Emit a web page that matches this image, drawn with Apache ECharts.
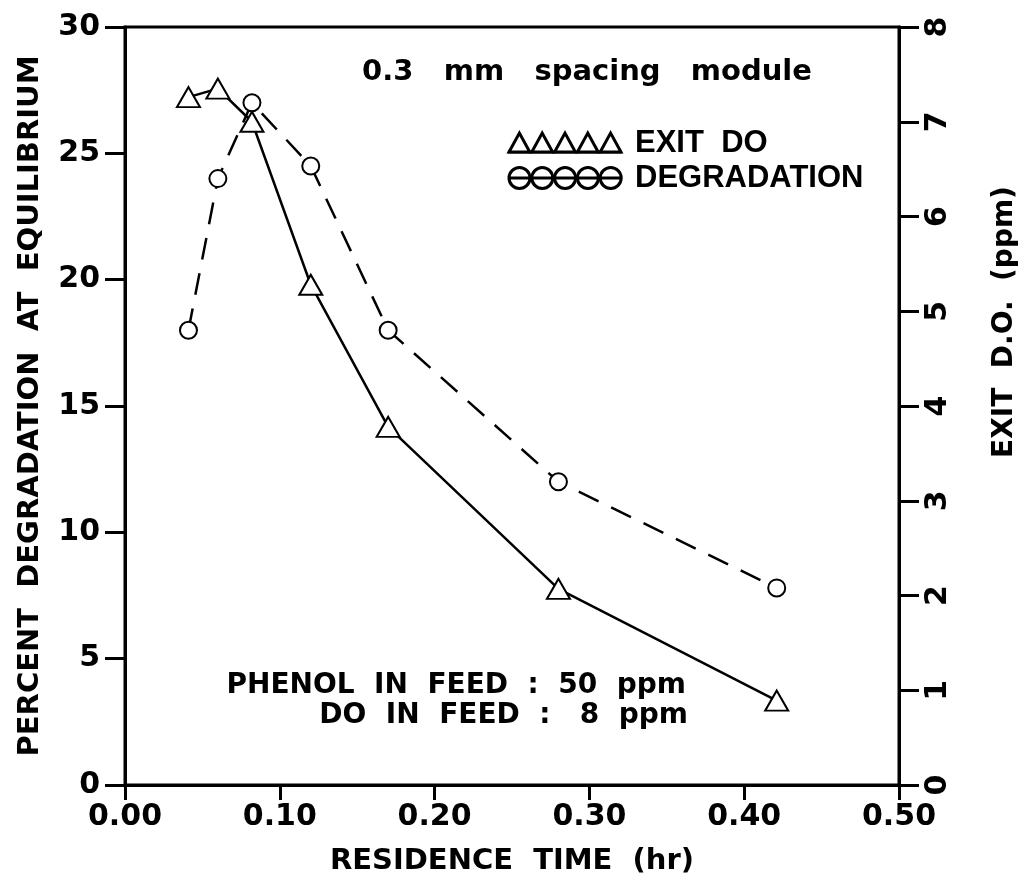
<!DOCTYPE html>
<html>
<head>
<meta charset="utf-8">
<script src="https://cdn.jsdelivr.net/npm/echarts@6/dist/echarts.min.js"></script>
<style>
html,body{margin:0;padding:0;background:#fff;}
#chart{width:1026px;height:881px;}
</style>
</head>
<body>
<div id="chart"></div>
<script>
// ---- data ----
const timeHr      = [0.041, 0.060, 0.082, 0.120, 0.170, 0.280, 0.421];
const degradation = [18.0, 24.0, 27.0, 24.5, 18.0, 12.0, 7.8];
const exitDO      = [7.26, 7.35, 7.0, 5.28, 3.78, 2.07, 0.89];
const xTicks      = [0.00, 0.10, 0.20, 0.30, 0.40, 0.50];

const FONT = 'DejaVu Sans';
const chart = echarts.init(document.getElementById('chart'), null, {renderer:'canvas'});

const degPairs = timeHr.map((t,i)=>[t, degradation[i]]);
const doPairs  = timeHr.map((t,i)=>[t, exitDO[i]]);

// legend drawing helpers (layout only)
const legendEls = [];
const triX0 = 508, triY0 = 133, triW = 22.8, triH = 19;
legendEls.push({type:'line', shape:{x1:triX0, y1:triY0+triH, x2:triX0+5*triW, y2:triY0+triH},
  style:{stroke:'#000', lineWidth:3}});
for (let i=0;i<5;i++){
  const x = triX0 + i*triW;
  legendEls.push({type:'polygon', shape:{points:[[x+1,triY0+triH],[x+triW/2,triY0],[x+triW-1,triY0+triH]]},
    style:{fill:'#fff', stroke:'#000', lineWidth:3}});
}
const cirX0 = 508, cirY = 178, cirR = 10.5;
for (let i=0;i<5;i++){
  legendEls.push({type:'circle', shape:{cx:cirX0+cirR+1+i*22.8, cy:cirY, r:cirR},
    style:{fill:'none', stroke:'#000', lineWidth:3}});
}
legendEls.push({type:'line', shape:{x1:cirX0+2, y1:cirY, x2:cirX0+5*22.8, y2:cirY},
  style:{stroke:'#000', lineWidth:3}});

const option = {
  backgroundColor:'#fff',
  animation:false,
  grid:{left:125, right:127, top:27, bottom:94, show:true, borderColor:'#000', borderWidth:3, backgroundColor:'transparent'},
  xAxis:{
    type:'value', min:0, max:0.5, interval:0.1,
    name:'RESIDENCE  TIME  (hr)', nameLocation:'middle', nameGap:62,
    nameTextStyle:{fontFamily:FONT, fontWeight:'bold', fontSize:29, color:'#000'},
    axisLine:{show:true, lineStyle:{color:'#000', width:3}},
    axisTick:{show:true, inside:false, length:15, lineStyle:{color:'#000', width:3}},
    axisLabel:{fontFamily:FONT, fontWeight:'bold', fontSize:30, color:'#000', margin:17, formatter:v=>v.toFixed(2)},
    splitLine:{show:false}
  },
  yAxis:[{
    type:'value', min:0, max:30, interval:5, position:'left',
    name:'PERCENT  DEGRADATION  AT  EQUILIBRIUM', nameLocation:'middle', nameGap:80,
    nameTextStyle:{fontFamily:FONT, fontWeight:'bold', fontSize:29, color:'#000'},
    axisLine:{show:true, lineStyle:{color:'#000', width:3}},
    axisTick:{show:true, inside:false, length:20, lineStyle:{color:'#000', width:3}},
    axisLabel:{fontFamily:FONT, fontWeight:'bold', fontSize:30, color:'#000', margin:25},
    splitLine:{show:false}
  },{
    type:'value', min:0, max:8, interval:1, position:'right',
    axisLine:{show:true, lineStyle:{color:'#000', width:3}},
    axisTick:{show:true, inside:false, length:20, lineStyle:{color:'#000', width:3}},
    axisLabel:{fontFamily:FONT, fontWeight:'bold', fontSize:30, color:'#000', margin:24, rotate:90},
    splitLine:{show:false}
  }],
  series:[{
    name:'DEGRADATION', type:'line', yAxisIndex:0, data:degPairs,
    symbol:'emptyCircle', symbolSize:17,
    lineStyle:{color:'#000', width:2.5, type:[22,14]},
    itemStyle:{color:'#000', borderColor:'#000', borderWidth:2.5}, z:3
  },{
    name:'EXIT DO', type:'line', yAxisIndex:1, data:doPairs,
    symbol:'emptyTriangle', symbolSize:[23,20],
    lineStyle:{color:'#000', width:2.5, type:'solid'},
    itemStyle:{color:'#000', borderColor:'#000', borderWidth:2.5}, z:4
  }],
  graphic:[
    {type:'text', x:587, y:72, style:{text:'0.3   mm   spacing   module', font:'bold 29px "DejaVu Sans"', fill:'#000', textAlign:'center', textVerticalAlign:'middle'}},
    {type:'text', x:635, y:143, style:{text:'EXIT  DO', font:'bold 31px "Liberation Sans"', fill:'#000', textAlign:'left', textVerticalAlign:'middle'}},
    {type:'text', x:635, y:178, style:{text:'DEGRADATION', font:'bold 31px "Liberation Sans"', fill:'#000', textAlign:'left', textVerticalAlign:'middle'}},
    {type:'text', x:686, y:686, style:{text:'PHENOL  IN  FEED  :  50  ppm', font:'bold 28px "DejaVu Sans"', fill:'#000', textAlign:'right', textVerticalAlign:'middle'}},
    {type:'text', x:688, y:716, style:{text:'DO  IN  FEED  :   8  ppm', font:'bold 28px "DejaVu Sans"', fill:'#000', textAlign:'right', textVerticalAlign:'middle'}},
    {type:'text', x:1005, y:322, rotation:Math.PI/2, style:{text:'EXIT  D.O.  (ppm)', font:'bold 28px "DejaVu Sans"', fill:'#000', textAlign:'center', textVerticalAlign:'middle'}},
    {type:'group', children:legendEls}
  ]
};
chart.setOption(option);
</script>
</body>
</html>
